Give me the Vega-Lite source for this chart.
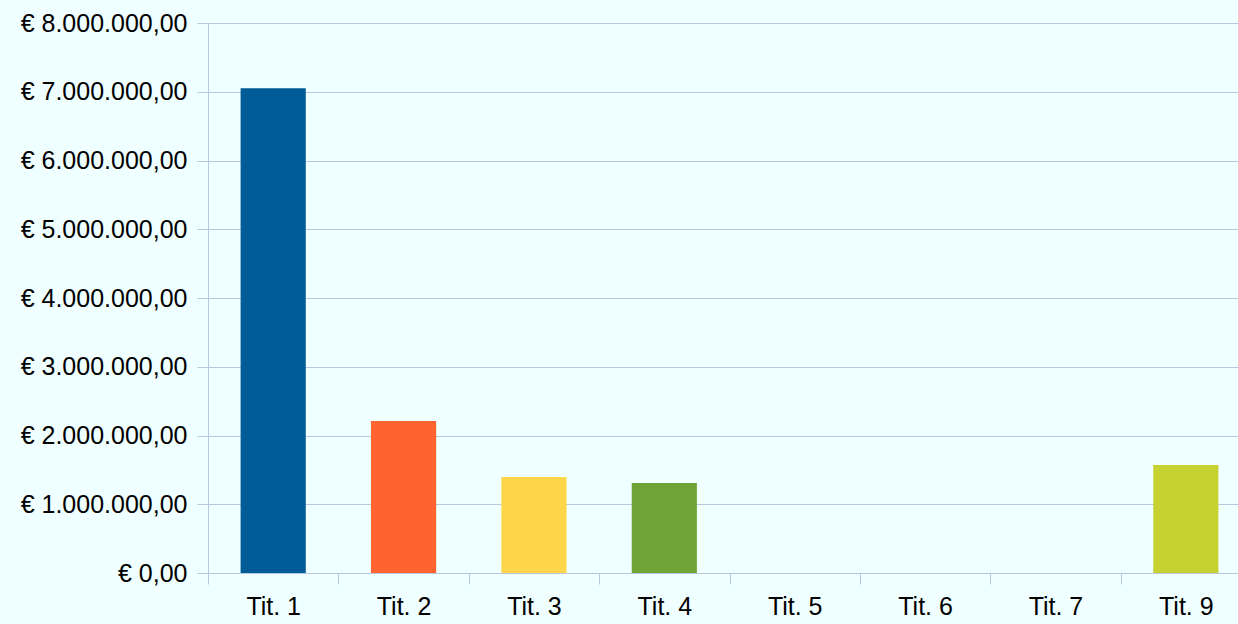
{
  "$schema": "https://vega.github.io/schema/vega-lite/v6.json",
  "autosize": {"type": "none"},
  "padding": {"left": 208, "top": 23, "right": 0, "bottom": 51},
  "width": 1043,
  "height": 550,
  "background": "#f0ffff",
  "config": {
    "view": {"stroke": null},
    "locale": {
      "number": {"decimal": ",", "thousands": ".", "grouping": [3], "currency": ["€ ", ""]}
    },
    "axis": {
      "labelFont": "Liberation Sans",
      "labelFontSize": 25,
      "labelColor": "#000000",
      "gridColor": "#b7c7de",
      "gridOpacity": 1,
      "tickColor": "#b7c7de",
      "domainColor": "#b7c7de",
      "tickSize": 11,
      "tickOpacity": 1,
      "domainOpacity": 1
    }
  },
  "data": {
    "values": [
      {"cat": "Tit. 1", "value": 7050000},
      {"cat": "Tit. 2", "value": 2210000},
      {"cat": "Tit. 3", "value": 1396000},
      {"cat": "Tit. 4", "value": 1310000},
      {"cat": "Tit. 5", "value": 0},
      {"cat": "Tit. 6", "value": 0},
      {"cat": "Tit. 7", "value": 0},
      {"cat": "Tit. 9", "value": 1571000}
    ]
  },
  "mark": {"type": "bar", "width": {"band": 0.5}},
  "encoding": {
    "x": {
      "field": "cat",
      "type": "nominal",
      "sort": null,
      "scale": {"paddingInner": 0, "paddingOuter": 0},
      "axis": {
        "title": null,
        "labelAngle": 0,
        "tickBand": "extent",
        "grid": false,
        "domain": false,
        "labelPadding": 10
      }
    },
    "y": {
      "field": "value",
      "type": "quantitative",
      "scale": {"domain": [0, 8000000], "nice": false},
      "axis": {
        "title": null,
        "values": [0, 1000000, 2000000, 3000000, 4000000, 5000000, 6000000, 7000000, 8000000],
        "format": "$,.2f",
        "grid": true,
        "domain": true,
        "labelPadding": 10
      }
    },
    "color": {
      "field": "cat",
      "type": "nominal",
      "legend": null,
      "scale": {
        "domain": ["Tit. 1", "Tit. 2", "Tit. 3", "Tit. 4", "Tit. 5", "Tit. 6", "Tit. 7", "Tit. 9"],
        "range": ["#005b96", "#ff6330", "#ffd64a", "#6fa536", "#7e0021", "#83caff", "#314004", "#c5d232"]
      }
    }
  }
}
